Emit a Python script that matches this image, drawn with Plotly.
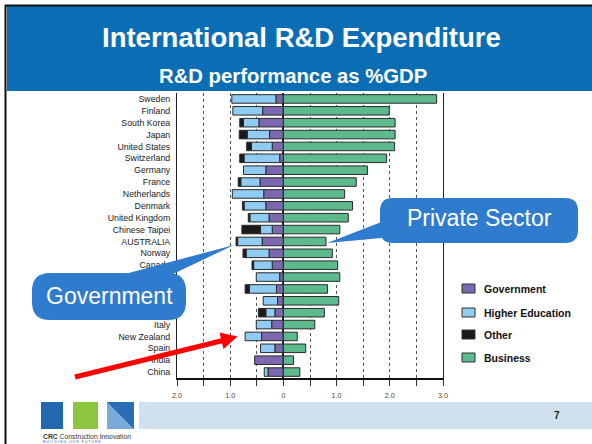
import plotly.graph_objects as go

# ---------------- data ----------------
countries = ["Sweden", "Finland", "South Korea", "Japan", "United States", "Switzerland",
             "Germany", "France", "Netherlands", "Denmark", "United Kingdom", "Chinese Taipei",
             "AUSTRALIA", "Norway", "Canada", "Austria", "Belgium", "Ireland", "Czech Republic",
             "Italy", "New Zealand", "Spain", "India", "China"]
government = [0.14, 0.39, 0.46, 0.26, 0.21, 0.07, 0.33, 0.44, 0.37, 0.33, 0.27, 0.21,
              0.40, 0.27, 0.21, 0.07, 0.13, 0.11, 0.16, 0.22, 0.41, 0.16, 0.54, 0.29]
higher_education = [0.83, 0.56, 0.29, 0.42, 0.39, 0.67, 0.42, 0.36, 0.59, 0.41, 0.36, 0.22,
                    0.46, 0.43, 0.35, 0.44, 0.51, 0.27, 0.17, 0.29, 0.31, 0.27, 0.00, 0.07]
other = [0.00, 0.00, 0.07, 0.15, 0.09, 0.08, 0.00, 0.05, 0.00, 0.03, 0.03, 0.35,
         0.03, 0.06, 0.03, 0.00, 0.08, 0.00, 0.14, 0.00, 0.00, 0.00, 0.00, 0.00]
business = [2.88, 1.99, 2.10, 2.10, 2.09, 1.94, 1.58, 1.37, 1.15, 1.30, 1.22, 1.06,
            0.80, 0.92, 1.02, 1.06, 0.83, 1.04, 0.77, 0.59, 0.26, 0.42, 0.19, 0.31]
x_tick_values = [-2.0, -1.5, -1.0, -0.5, 0.0, 0.5, 1.0, 1.5, 2.0, 2.5, 3.0]
x_tick_labels = ["2.0", "", "1.0", "", "0", "", "1.0", "", "2.0", "", "3.0"]
legend_names = ["Government", "Higher Education", "Other", "Business"]

# ---------------- styling ----------------
W, H = 592, 444
L, R, T, B = 177, 149, 93, 66
PW, PH = W - L - R, H - T - B
FONT = "Liberation Sans, Arial, sans-serif"
colors = {"Government": "#7B68B1", "Higher Education": "#8FCBF2",
          "Other": "#1C1A1A", "Business": "#5CBA8D"}
callout_blue = "#2F7CCF"


def X(px):
    return (px - L) / PW


def Y(py):
    return (H - B - py) / PH


def P(px, py):
    return f"{X(px):.5f},{Y(py):.5f}"


def rrect(x0, y0, x1, y1, r):
    return (f"M {P(x0 + r, y0)} L {P(x1 - r, y0)} Q {P(x1, y0)} {P(x1, y0 + r)} "
            f"L {P(x1, y1 - r)} Q {P(x1, y1)} {P(x1 - r, y1)} L {P(x0 + r, y1)} "
            f"Q {P(x0, y1)} {P(x0, y1 - r)} L {P(x0, y0 + r)} Q {P(x0, y0)} {P(x0 + r, y0)} Z")


def tri(a, b, c):
    return f"M {P(*a)} L {P(*b)} L {P(*c)} Z"


fig = go.Figure()
neg = lambda vals: [-v for v in vals]
series = [("Government", neg(government), government),
          ("Higher Education", neg(higher_education), higher_education),
          ("Other", neg(other), other),
          ("Business", business, business)]
for name, xs, raw in series:
    fig.add_trace(go.Bar(
        y=countries, x=xs, orientation="h", name=name, customdata=raw,
        marker=dict(color=colors[name], line=dict(color="#2A2A2A", width=1)),
        hovertemplate="%{y}<br>" + name + ": %{customdata:.2f}%<extra></extra>",
        showlegend=False))

shapes = []
annotations = []

# slide title bar and frame
shapes.append(dict(type="rect", xref="paper", yref="paper", x0=X(7), x1=X(592), y0=Y(91), y1=Y(6),
                   fillcolor="#0A6EB5", line=dict(width=0), layer="above"))
shapes.append(dict(type="line", xref="paper", yref="paper", x0=X(5), x1=X(592), y0=Y(5.5), y1=Y(5.5),
                   line=dict(color="#111111", width=2), layer="above"))
shapes.append(dict(type="line", xref="paper", yref="paper", x0=X(5.5), x1=X(5.5), y0=Y(5), y1=Y(444),
                   line=dict(color="#111111", width=2), layer="above"))
annotations.append(dict(text="<b>International R&D Expenditure</b>", xref="paper", yref="paper",
                        x=X(301), y=Y(37), xanchor="center", yanchor="middle", showarrow=False,
                        font=dict(family=FONT, size=27.5, color="white")))
annotations.append(dict(text="<b>R&D performance as %GDP</b>", xref="paper", yref="paper",
                        x=X(292.5), y=Y(75.5), xanchor="center", yanchor="middle", showarrow=False,
                        font=dict(family=FONT, size=20.3, color="white")))

# footer
shapes.append(dict(type="rect", xref="paper", yref="paper", x0=X(139), x1=X(592), y0=Y(429), y1=Y(402),
                   fillcolor="#CFE0EE", line=dict(width=0), layer="above"))
for (x0, x1, c) in [(41, 63, "#2568B2"), (73, 98, "#8CC63F"), (107, 134, "#2A6DB5")]:
    shapes.append(dict(type="rect", xref="paper", yref="paper", x0=X(x0), x1=X(x1), y0=Y(429), y1=Y(402),
                       fillcolor=c, line=dict(width=0), layer="above"))
shapes.append(dict(type="path", xref="paper", yref="paper",
                   path=tri((107, 402), (134, 429), (107, 429)), fillcolor="#9CC5EA",
                   line=dict(width=0), layer="above", opacity=0.7))
annotations.append(dict(text="<b>CRC</b> Construction Innovation", xref="paper", yref="paper",
                        x=X(41), y=Y(436.5), xanchor="left", yanchor="middle", showarrow=False,
                        font=dict(family=FONT, size=6.8, color="#333333")))
annotations.append(dict(text="B U I L D I N G   O U R   F U T U R E", xref="paper", yref="paper",
                        x=X(41), y=Y(441.5), xanchor="left", yanchor="middle", showarrow=False,
                        font=dict(family=FONT, size=3.5, color="#2A6DB5")))
annotations.append(dict(text="<b>7</b>", xref="paper", yref="paper",
                        x=X(557), y=Y(415), xanchor="center", yanchor="middle", showarrow=False,
                        font=dict(family=FONT, size=10, color="#222222")))

# legend (manual)
for name, cy in zip(legend_names, [288.5, 312.5, 334.5, 357.5]):
    shapes.append(dict(type="rect", xref="paper", yref="paper", x0=X(462), x1=X(475),
                       y0=Y(cy + 4.5), y1=Y(cy - 4.5), fillcolor=colors[name],
                       line=dict(color="#333333", width=1), layer="above"))
    annotations.append(dict(text=f"<b>{name}</b>", xref="paper", yref="paper",
                            x=X(482), y=Y(cy), xanchor="left", yanchor="middle", showarrow=False,
                            font=dict(family=FONT, size=10.5, color="#111111")))

# callouts
shapes.append(dict(type="path", xref="paper", yref="paper", path=rrect(32, 273, 186, 320, 18),
                   fillcolor=callout_blue, line=dict(width=0), layer="above"))
shapes.append(dict(type="path", xref="paper", yref="paper",
                   path=tri((123, 274.5), (234, 245), (172, 274.5)),
                   fillcolor=callout_blue, line=dict(width=0), layer="above"))
annotations.append(dict(text="Government", xref="paper", yref="paper", x=X(109), y=Y(296),
                        xanchor="center", yanchor="middle", showarrow=False,
                        font=dict(family=FONT, size=23, color="white")))
shapes.append(dict(type="path", xref="paper", yref="paper", path=rrect(380, 198, 578, 243, 13),
                   fillcolor=callout_blue, line=dict(width=0), layer="above"))
shapes.append(dict(type="path", xref="paper", yref="paper",
                   path=tri((381.5, 222), (327, 243), (381.5, 238)),
                   fillcolor=callout_blue, line=dict(width=0), layer="above"))
annotations.append(dict(text="Private Sector", xref="paper", yref="paper", x=X(479), y=Y(218),
                        xanchor="center", yanchor="middle", showarrow=False,
                        font=dict(family=FONT, size=23, color="white")))

# red arrow
shapes.append(dict(type="line", xref="paper", yref="paper", x0=X(75), y0=Y(377), x1=X(225), y1=Y(340),
                   line=dict(color="#FF0000", width=5), layer="above"))
shapes.append(dict(type="path", xref="paper", yref="paper",
                   path=tri((219.5, 332.5), (237.5, 336.5), (223.5, 349)),
                   fillcolor="#FF0000", line=dict(width=0), layer="above"))

fig.update_layout(
    width=W, height=H, autosize=False,
    margin=dict(l=L, r=R, t=T, b=B, pad=0),
    paper_bgcolor="white", plot_bgcolor="white",
    barmode="relative", bargap=0.28,
    font=dict(family=FONT, color="#222222"),
    shapes=shapes, annotations=annotations,
    xaxis=dict(range=[-2, 3], tickmode="array", tickvals=x_tick_values, ticktext=x_tick_labels,
               showgrid=True, gridcolor="#555555", griddash="dot", gridwidth=1,
               zeroline=True, zerolinecolor="#222222", zerolinewidth=1.5,
               showline=True, linecolor="#111111", linewidth=1.5,
               ticks="outside", ticklen=6, tickcolor="#333333", tickwidth=1,
               ticklabelstandoff=4,
               tickfont=dict(family=FONT, size=7.2, color="#444444"), fixedrange=True),
    yaxis=dict(type="category", categoryorder="array", categoryarray=countries,
               autorange="reversed", showgrid=False, zeroline=False,
               showline=True, linecolor="#222222", linewidth=1, mirror=True,
               ticks="", ticklabelstandoff=4,
               tickfont=dict(family=FONT, size=8.8, color="#222222"), fixedrange=True),
)

fig.write_html("out.html", config={"displayModeBar": False},
               post_script="document.body.style.margin='0';document.body.style.overflow='hidden';")
